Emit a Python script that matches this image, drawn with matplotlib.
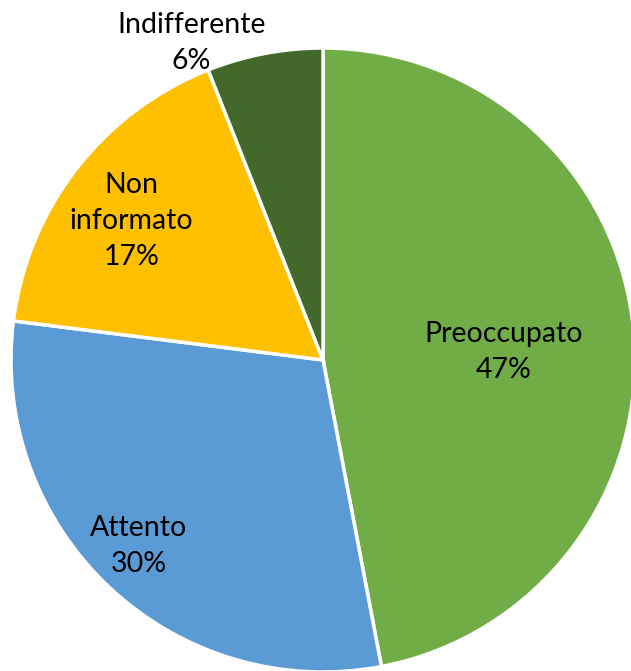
import matplotlib
matplotlib.use('Agg')
import matplotlib.pyplot as plt
import numpy as np

labels = ['Preoccupato', 'Attento', 'Non\ninformato', 'Indifferente']
shares = [47, 30, 17, 6]
colors = ['#70AD47', '#5B9BD5', '#FFC000', '#43682B']

plt.rcParams['font.family'] = ['Lato', 'DejaVu Sans']

fig = plt.figure(figsize=(6.31, 6.71), dpi=100)
ax = fig.add_axes([0, 0, 1, 1])

wedges, _ = ax.pie(shares, colors=colors, startangle=90, counterclock=False,
                   radius=1.0, wedgeprops=dict(edgecolor='white', linewidth=2.5))

# label placement: (distance from centre, angle in degrees)
label_pos = [(0.58, 2.5), (0.84, -134.8), (0.76, 144.0), (1.10, 112.5)]
for name, pct, (r, a) in zip(labels, shares, label_pos):
    x = r * np.cos(np.radians(a))
    y = r * np.sin(np.radians(a))
    ax.text(x, y, f'{name}\n{pct}%', ha='center', va='center',
            fontsize=20.5, color='black', linespacing=1.48)

ax.set_aspect('equal')
ax.set_xlim(-323 / 312, (631 - 323) / 312)
ax.set_ylim(-311 / 312, 360 / 312)
ax.axis('off')

fig.savefig('out.png', dpi=100, facecolor='white')
